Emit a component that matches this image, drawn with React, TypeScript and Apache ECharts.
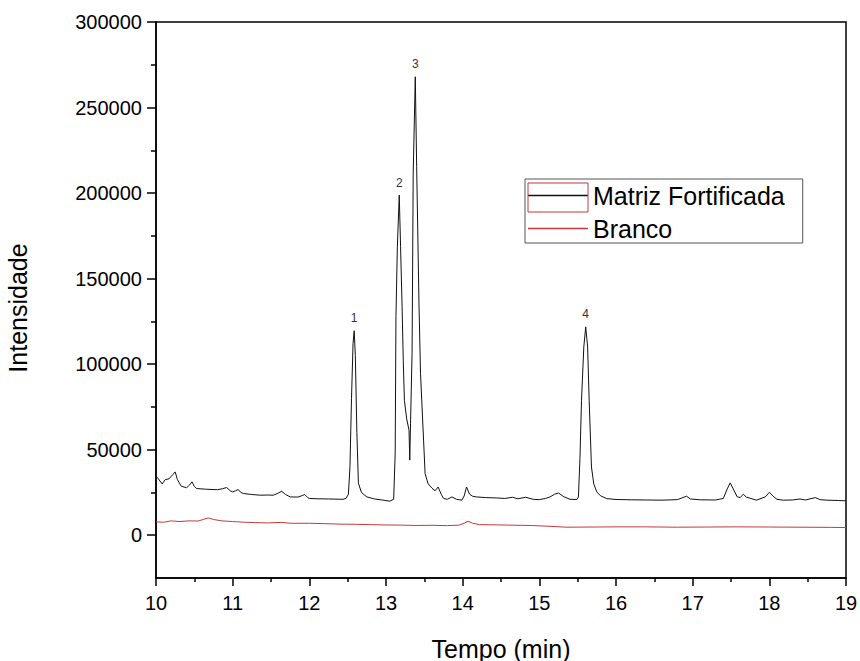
import React, { useEffect, useRef } from "react";
import * as echarts from "echarts";

// Matriz Fortificada (black trace): retention time (min) and intensity
const matrizTime = [
  10.0, 10.03, 10.08, 10.12, 10.17, 10.22, 10.25, 10.28, 10.33, 10.4, 10.44, 10.47, 10.5, 10.53,
  10.65, 10.8, 10.87, 10.92, 10.97, 11.0, 11.04, 11.07, 11.11, 11.14, 11.25, 11.36, 11.45, 11.53,
  11.58, 11.64, 11.69, 11.75, 11.85, 11.91, 11.94, 11.98, 12.0, 12.1, 12.25, 12.44, 12.48, 12.51,
  12.53, 12.55, 12.57, 12.585, 12.6, 12.62, 12.64, 12.68, 12.75, 12.85, 12.95, 13.05, 13.1, 13.12,
  13.13, 13.148, 13.173, 13.19, 13.21, 13.225, 13.24, 13.27, 13.3, 13.31, 13.32, 13.34, 13.355,
  13.382, 13.4, 13.43, 13.45, 13.49, 13.51, 13.55, 13.6, 13.64, 13.68, 13.72, 13.75, 13.8, 13.86,
  13.92, 13.99, 14.02, 14.05, 14.09, 14.13, 14.18, 14.3, 14.44, 14.55, 14.65, 14.72, 14.82, 14.92,
  15.0, 15.08, 15.14, 15.2, 15.25, 15.32, 15.4, 15.49, 15.51, 15.53, 15.55, 15.58, 15.605, 15.63,
  15.65, 15.68, 15.71, 15.75, 15.8, 15.88, 16.0, 16.2, 16.4, 16.6, 16.8, 16.92, 16.97, 17.1, 17.3,
  17.4, 17.45, 17.49, 17.53, 17.58, 17.62, 17.66, 17.7, 17.83, 17.95, 18.0, 18.05, 18.1, 18.18,
  18.3, 18.4, 18.47, 18.6, 18.66, 18.75, 18.9, 19.0,
];
const matrizIntensity = [
  34500, 33000, 30000, 32500, 33000, 35500, 37000, 32500, 28600, 27800, 29500, 31200, 28500, 27300,
  26900, 26600, 27200, 27900, 26000, 25300, 26000, 26700, 25000, 24400, 23800, 23400, 23500, 23400,
  24300, 25700, 23800, 22400, 22300, 23200, 23800, 22000, 21500, 21300, 21200, 21000, 21600, 24000,
  40000, 80000, 112000, 119500, 105000, 60000, 30400, 25000, 22400, 21200, 20600, 19900, 21000, 48000,
  127700, 168600, 198800, 168600, 133500, 102300, 78900, 68000, 61400, 43900, 65500, 106400, 211700,
  268000, 215400, 135700, 94700, 55600, 36000, 30000, 27500, 26000, 28200, 24000, 21500, 21000, 22400,
  21000, 20500, 23000, 28200, 24000, 22800, 22400, 22000, 21800, 21500, 22200, 21300, 22200, 21000,
  20800, 21500, 22400, 24000, 24700, 22500, 21000, 20900, 22400, 45000, 78900, 110000, 121800, 110000,
  78900, 39900, 30000, 25300, 23000, 21400, 20900, 20700, 20600, 20500, 20800, 22800, 21200, 20700, 20600,
  21500, 27000, 30600, 27000, 22500, 22000, 24000, 22300, 20500, 22500, 25100, 22800, 21000, 20500,
  20600, 21200, 20600, 22000, 20800, 20500, 20300, 20100,
];

// Branco (red trace)
const brancoTime = [
  10.0, 10.1, 10.2, 10.3, 10.44, 10.55, 10.68, 10.75, 10.86, 11.0, 11.15, 11.28, 11.45, 11.64,
  11.75, 12.0, 12.18, 12.4, 12.6, 12.78, 13.0, 13.2, 13.38, 13.6, 13.8, 13.95, 14.02, 14.07,
  14.13, 14.22, 14.5, 14.88, 15.1, 15.36, 15.7, 16.0, 16.38, 16.8, 17.2, 17.58, 18.0, 18.4, 18.8, 19.0,
];
const brancoIntensity = [
  7800, 7600, 8400, 8000, 8400, 8300, 10100, 9200, 8400, 8000, 7600, 7400, 7200, 7500,
  7000, 7000, 6800, 6500, 6400, 6200, 6000, 5900, 5700, 5800, 5600, 5900, 7000, 8200,
  7000, 6200, 6000, 5700, 5300, 4700, 4800, 4900, 4900, 4700, 4800, 4900, 4800, 4700, 4600, 4500,
];

// Numbered peaks (retention times of the Matriz apexes)
const peakLabels = ["1", "2", "3", "4"];
const peakTimes = [12.585, 13.173, 13.382, 15.605];

const yMajorTicks = [0, 50000, 100000, 150000, 200000, 250000, 300000];
const yMinorTicks = [25000, 75000, 125000, 175000, 225000, 275000];

const FONT = "'Liberation Sans', Arial, sans-serif";

export default function App() {
  const ref = useRef<HTMLDivElement>(null);

  useEffect(() => {
    if (!ref.current) return;
    const chart = echarts.init(ref.current, null, { renderer: "svg" });

    const matrizData = matrizTime.map((t, i) => [t, matrizIntensity[i]]);
    const brancoData = brancoTime.map((t, i) => [t, brancoIntensity[i]]);
    const peakMarks = peakTimes.map((t, k) => ({
      name: peakLabels[k],
      coord: [t, matrizIntensity[matrizTime.indexOf(t)]],
      label: { color: "#333" },
    }));

    chart.setOption({
      animation: false,
      backgroundColor: "#fff",
      textStyle: { fontFamily: FONT },
      grid: {
        left: 156,
        right: 14,
        top: 22,
        bottom: 83,
        outerBoundsMode: "none",
        containLabel: false,
        show: true,
        borderColor: "#000",
        borderWidth: 1.5,
        backgroundColor: "transparent",
      },
      legend: {
        orient: "vertical",
        left: 525,
        top: 179,
        padding: [4, 18, 2, 3],
        itemGap: 8,
        itemWidth: 60,
        itemHeight: 1.5,
        icon: "rect",
        borderColor: "#555",
        borderWidth: 1,
        backgroundColor: "#fff",
        textStyle: { fontSize: 25, color: "#000", fontFamily: FONT },
        data: ["Matriz Fortificada", "Branco"],
      },
      graphic: [
        {
          type: "rect",
          z: 200,
          shape: { x: 528, y: 183, width: 60, height: 29 },
          style: { fill: "none", stroke: "#c23a3a", lineWidth: 1 },
        },
      ],
      xAxis: {
        type: "value",
        min: 10,
        max: 19,
        interval: 1,
        name: "Tempo (min)",
        nameLocation: "middle",
        nameGap: 58,
        nameTextStyle: { fontSize: 25, color: "#000", fontFamily: FONT },
        axisLine: { onZero: false, lineStyle: { color: "#000", width: 1.5 } },
        axisTick: { show: true, inside: false, length: 8, lineStyle: { color: "#000", width: 1.5 } },
        minorTick: { show: true, splitNumber: 2, length: 4, lineStyle: { color: "#000", width: 1.5 } },
        axisLabel: { fontSize: 20, color: "#000", margin: 15, fontFamily: FONT },
        splitLine: { show: false },
        minorSplitLine: { show: false },
      },
      yAxis: [
        {
          type: "value",
          min: -25000,
          max: 300000,
          name: "Intensidade",
          nameLocation: "middle",
          nameGap: 126,
          nameTextStyle: { fontSize: 25, color: "#000", fontFamily: FONT, padding: [0, 16, 0, 0] },
          axisLine: { onZero: false, lineStyle: { color: "#000", width: 1.5 } },
          axisTick: {
            show: true,
            inside: false,
            length: 9,
            customValues: yMajorTicks,
            lineStyle: { color: "#000", width: 1.5 },
          },
          axisLabel: {
            fontSize: 20,
            color: "#000",
            margin: 14,
            customValues: yMajorTicks,
            formatter: (v: number) => String(v),
            fontFamily: FONT,
          },
          splitLine: { show: false },
        },
        {
          type: "value",
          min: -25000,
          max: 300000,
          position: "left",
          axisLine: { show: false },
          axisTick: {
            show: true,
            inside: false,
            length: 5,
            customValues: yMinorTicks,
            lineStyle: { color: "#000", width: 1.5 },
          },
          axisLabel: { show: false },
          splitLine: { show: false },
        },
      ],
      series: [
        {
          name: "Matriz Fortificada",
          type: "line",
          data: matrizData,
          symbol: "none",
          showSymbol: false,
          lineStyle: { color: "#111", width: 1 },
          itemStyle: { color: "#111" },
          z: 3,
          markPoint: {
            symbol: "circle",
            symbolSize: 1,
            silent: true,
            itemStyle: { color: "rgba(0,0,0,0)" },
            label: {
              show: true,
              position: "top",
              distance: 6,
              formatter: "{b}",
              fontSize: 12,
              color: "#333",
              fontFamily: FONT,
            },
            data: peakMarks,
          },
        },
        {
          name: "Branco",
          type: "line",
          data: brancoData,
          symbol: "none",
          showSymbol: false,
          lineStyle: { color: "#c23a3a", width: 1 },
          itemStyle: { color: "#c23a3a" },
          z: 2,
        },
      ],
    });

    return () => chart.dispose();
  }, []);

  return (
    <div
      ref={ref}
      style={{ position: "fixed", left: 0, top: 0, width: 860, height: 661, background: "#fff" }}
    />
  );
}
